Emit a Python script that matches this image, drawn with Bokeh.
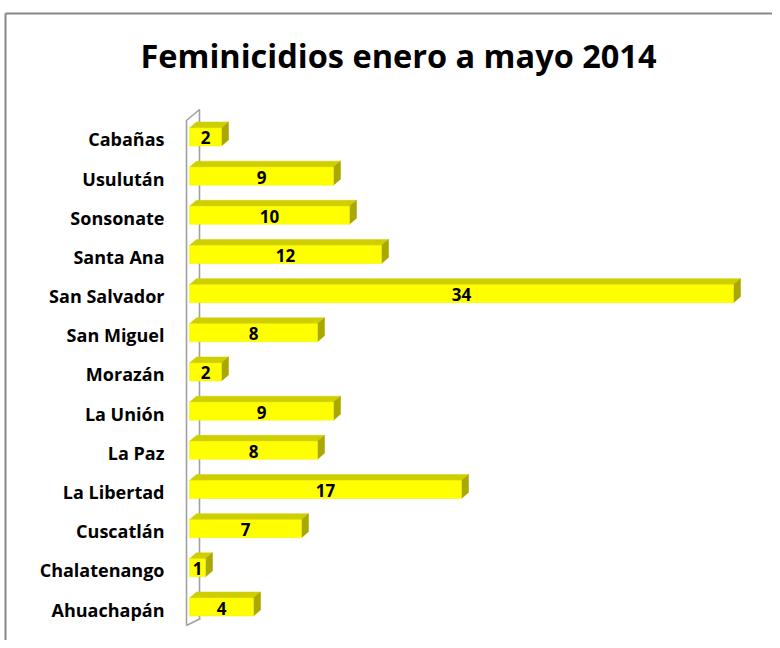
from bokeh.plotting import figure
from bokeh.models import Range1d, ColumnDataSource
from bokeh.core.properties import value
from bokeh.embed import file_html
from bokeh.resources import INLINE

# ---- data (bottom to top) ----
departamentos = ["Ahuachapán", "Chalatenango", "Cuscatlán", "La Libertad", "La Paz",
                 "La Unión", "Morazán", "San Miguel", "San Salvador", "Santa Ana",
                 "Sonsonate", "Usulután", "Cabañas"]
feminicidios = [4, 1, 7, 17, 8, 9, 2, 8, 34, 12, 10, 9, 2]
titulo = "Feminicidios enero a mayo 2014"

# ---- layout (pixel geometry of the canvas) ----
W, H = 772, 640
PX_X = 16.0          # pixels per unit on x
X0 = 189.0           # canvas x of value 0
PX_Y = 39.17         # pixels per category row
Y0 = 606.5           # canvas y of first row centre

def dx(px):  # pixels -> x data units
    return px / PX_X

def dy(px):  # pixels -> y data units
    return px / PX_Y

def cx(px):  # canvas x -> data x
    return (px - X0) / PX_X

def cy(px):  # canvas y -> data y
    return (Y0 - px) / PX_Y

p = figure(width=W, height=H, output_backend="svg", toolbar_location=None,
           x_range=Range1d(cx(0), cx(W)), y_range=Range1d(cy(H), cy(0)),
           min_border=0)
p.axis.visible = False
p.grid.visible = False
p.outline_line_color = None
p.background_fill_color = "white"
p.border_fill_color = "white"

# chart border (left and top visible)
p.line([cx(5), cx(5)], [cy(13), cy(H + 5)], line_color="#878787", line_width=2)
p.line([cx(5), cx(W + 5)], [cy(13), cy(13)], line_color="#878787", line_width=2)

# title
p.text([cx(398)], [cy(55)], text=[titulo], text_font=value("Open Sans"),
       text_font_style="bold", text_font_size="32.5px", text_align="center",
       text_baseline="middle", text_color="black")

# 3D wall (axis)
wall_col = "#A0A0A0"
p.line([cx(186), cx(186), cx(199), cx(199)], [cy(625), cy(120), cy(109), cy(618)],
       line_color=wall_col, line_width=1.6)
p.line([cx(186), cx(200)], [cy(625), cy(618)], line_color=wall_col, line_width=1.6)

# 3D bars
h = dy(18)
ddx, ddy = dx(7), dy(6)
n = len(feminicidios)
idx = list(range(n))
front = ColumnDataSource(dict(left=[0] * n, right=feminicidios,
                              bottom=[i - h / 2 for i in idx],
                              top=[i + h / 2 for i in idx]))
top_xs, top_ys, side_xs, side_ys = [], [], [], []
for i, v in zip(idx, feminicidios):
    t, b = i + h / 2, i - h / 2
    top_xs.append([0, v, v + ddx, ddx])
    top_ys.append([t, t, t + ddy, t + ddy])
    side_xs.append([v, v + ddx, v + ddx, v])
    side_ys.append([b, b + ddy, t + ddy, t])

p.patches(top_xs, top_ys, fill_color="#CFCF00", line_color="#CFCF00", line_width=0.5)
p.patches(side_xs, side_ys, fill_color="#A8A800", line_color="#A8A800", line_width=0.5)
p.quad(left="left", right="right", bottom="bottom", top="top", source=front,
       fill_color="#FFFF00", line_color="#F0F000", line_width=0.5)

# value labels
p.text([v / 2 for v in feminicidios], [i - dy(1) for i in idx],
       text=[str(v) for v in feminicidios], text_font=value("Open Sans"),
       text_font_style="bold", text_font_size="17px", text_align="center",
       text_baseline="middle", text_color="black")

# category labels
p.text([cx(164)] * n, [i - dy(2.5) for i in idx], text=departamentos,
       text_font=value("Open Sans"), text_font_style="bold", text_font_size="18px",
       text_align="right", text_baseline="middle", text_color="black")

open("out.html", "w").write(file_html(p, INLINE))
